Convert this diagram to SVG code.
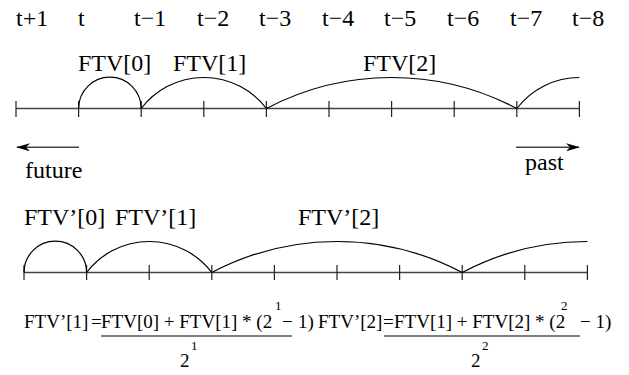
<svg xmlns="http://www.w3.org/2000/svg" width="629" height="375" viewBox="0 0 629 375">
<style>
text{font-family:"Liberation Serif","Times New Roman",serif;fill:#000}
.lbl{font-size:24px}
.f{font-size:19px}
.sup{font-size:13px}
.axis{stroke:#444;stroke-width:1.4;fill:none}
.tick{stroke:#222;stroke-width:1.2}
.arc{stroke:#000;stroke-width:1.2;fill:none}
.arr{stroke:#444;stroke-width:1.4;fill:none}
.frac{stroke:#000;stroke-width:1.1}
</style>
<defs>
<marker id="ah" viewBox="0 0 14 8" refX="13" refY="4" markerWidth="14" markerHeight="8" markerUnits="userSpaceOnUse" orient="auto">
<path d="M0,0 L14,4 L0,8 L4,4 Z" fill="#000"/>
</marker>
</defs>

<g id="time-labels" class="lbl">
<text x="16" y="26">t+1</text>
<text x="78" y="26">t</text>
<text x="134" y="26">t−1</text>
<text x="197" y="26">t−2</text>
<text x="259" y="26">t−3</text>
<text x="322" y="26">t−4</text>
<text x="384" y="26">t−5</text>
<text x="447" y="26">t−6</text>
<text x="510" y="26">t−7</text>
<text x="572" y="26">t−8</text>
</g>

<g id="top-axis">
<line class="axis" x1="16" y1="108.5" x2="579.4" y2="108.5"/>
<path class="tick" d="M16,101V117M78.6,101V117M141.2,101V117M203.8,101V117M266.4,101V117M329,101V117M391.6,101V117M454.2,101V117M516.8,101V117M579.4,101V117"/>
</g>

<g id="ftv-arcs">
<path class="arc" d="M78.6,108.5 A31.3,31.3 0 0 1 141.2,108.5"/>
<path class="arc" d="M141.2,108.5 A78.7,78.7 0 0 1 266.4,108.5"/>
<path class="arc" d="M266.4,108.5 A268.3,268.3 0 0 1 516.8,108.5"/>
<path class="arc" d="M516.8,108.5 A78.7,78.7 0 0 1 579.4,77.5"/>
</g>

<g id="ftv-labels" class="lbl">
<text x="78" y="71">FTV[0]</text>
<text x="173" y="71">FTV[1]</text>
<text x="363" y="71">FTV[2]</text>
</g>

<g id="direction">
<line class="arr" x1="79" y1="147.3" x2="17" y2="147.3" marker-end="url(#ah)"/>
<text class="lbl" x="25" y="178">future</text>
<line class="arr" x1="516" y1="147.3" x2="579" y2="147.3" marker-end="url(#ah)"/>
<text class="lbl" x="525" y="170">past</text>
</g>

<g id="ftvp-labels" class="lbl">
<text x="24" y="225">FTV’[0]</text>
<text x="115" y="225">FTV’[1]</text>
<text x="298" y="225">FTV’[2]</text>
</g>

<g id="bottom-axis">
<line class="axis" x1="24" y1="272.5" x2="587.4" y2="272.5"/>
<path class="tick" d="M24,265V280M86.6,265V280M149.2,265V280M211.8,265V280M274.4,265V280M337,265V280M399.6,265V280M462.2,265V280M524.8,265V280M587.4,265V280"/>
</g>

<g id="ftvp-arcs">
<path class="arc" d="M24,272.5 A31.3,31.3 0 0 1 86.6,272.5"/>
<path class="arc" d="M86.6,272.5 A78.7,78.7 0 0 1 211.8,272.5"/>
<path class="arc" d="M211.8,272.5 A268.3,268.3 0 0 1 462.2,272.5"/>
<path class="arc" d="M462.2,272.5 A268.3,268.3 0 0 1 587.4,241.5"/>
</g>

<g id="formula1">
<text class="f" x="24" y="328">FTV’[1]</text>
<text class="f" x="91" y="328">=</text>
<text class="f" x="101" y="328">FTV[0] + FTV[1] * (2</text>
<text class="sup" x="275" y="310">1</text>
<text class="f" x="282" y="328">−</text>
<text class="f" x="298" y="328">1)</text>
<line class="frac" x1="101" y1="336" x2="292" y2="336"/>
<text class="f" x="180" y="367">2</text>
<text class="sup" x="191" y="350">1</text>
</g>

<g id="formula2">
<text class="f" x="318" y="328">FTV’[2]</text>
<text class="f" x="383" y="328">=</text>
<text class="f" x="394" y="328">FTV[1] + FTV[2] * (2</text>
<text class="sup" x="561" y="310">2</text>
<text class="f" x="580" y="328">− 1)</text>
<line class="frac" x1="384" y1="336" x2="580" y2="336"/>
<text class="f" x="471" y="367">2</text>
<text class="sup" x="482" y="350">2</text>
</g>
</svg>
